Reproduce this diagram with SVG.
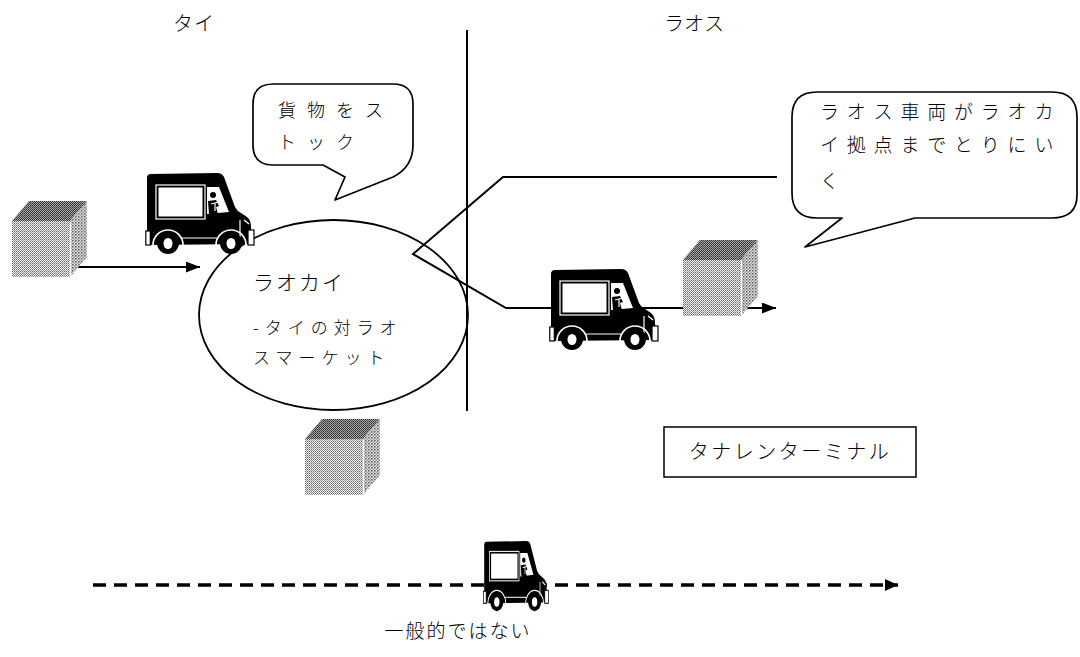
<svg xmlns="http://www.w3.org/2000/svg" xmlns:xlink="http://www.w3.org/1999/xlink" width="1080" height="657" viewBox="0 0 1080 657">
  <style>
    .jp { font-family: "Noto Sans CJK JP", sans-serif; font-weight: 300; fill: #000; }
    .outline { fill: #fff; stroke: #000; stroke-width: 1.7; stroke-linejoin: round; }
    .conn { fill: none; stroke: #000; stroke-width: 2; stroke-linejoin: miter; }
    .dash { fill: none; stroke: #000; stroke-width: 3.5; stroke-dasharray: 13 8; }
  </style>
  <defs>
    <!-- halftone fills for the cartons -->
    <pattern id="dotFront" width="2" height="2" patternUnits="userSpaceOnUse">
      <rect width="2" height="2" fill="#f0f0f0"/>
      <rect width="1" height="1" fill="#666"/>
      <rect x="1" y="1" width="1" height="1" fill="#9a9a9a"/>
    </pattern>
    <pattern id="dotTop" width="2" height="2" patternUnits="userSpaceOnUse">
      <rect width="2" height="2" fill="#a8a8a8"/>
      <rect width="1" height="1" fill="#2a2a2a"/>
      <rect x="1" y="1" width="1" height="1" fill="#444"/>
    </pattern>
    <pattern id="dotSide" width="3" height="3" patternUnits="userSpaceOnUse">
      <rect width="3" height="3" fill="#e6e6e6"/>
      <rect width="1.5" height="1.5" fill="#555"/>
      <rect x="1.5" y="1.5" width="1.5" height="1.5" fill="#999"/>
    </pattern>

    <!-- carton: front face 58x56, depth offset (17,-20) -->
    <symbol id="carton" viewBox="0 0 76 77" overflow="visible">
      <path d="M0,20 L17,0 L75,0 L58,20 Z" fill="url(#dotTop)"/>
      <path d="M58,20 L75,0 L75,56 L58,76 Z" fill="url(#dotSide)"/>
      <rect x="0" y="20" width="58" height="56" fill="url(#dotFront)"/>
      <line x1="58.5" y1="21" x2="58.5" y2="76" stroke="#fff" stroke-width="1"/>
    </symbol>

    <!-- delivery van, side view -->
    <symbol id="van" viewBox="0 0 110 82" preserveAspectRatio="none">
      <path d="M2,5 Q2,1 6,1 L72,0 Q77,0 79,4 L90,34 Q92,38 96,40 L102,44 Q106,47 106,54 L107,71 L2,72 Z" fill="#000"/>
      <!-- cargo panel -->
      <rect x="11" y="12" width="49" height="34" fill="none" stroke="#fff" stroke-width="1.2"/>
      <rect x="13.5" y="14.5" width="44" height="29" fill="#fff"/>
      <!-- cab window and driver -->
      <path d="M62,14 L74,14 L84,39 L62,41 Z" fill="#fff"/>
      <circle cx="68" cy="22" r="3" fill="#000"/>
      <path d="M63,28 L71,27 L74,33 L71,34 L73,41 L64,41 Z" fill="#000"/>
      <path d="M66,31 L74,29 M70,30 L70,38" stroke="#fff" stroke-width="1.2"/>
      <!-- trim lines -->
      <line x1="37" y1="65" x2="72" y2="65" stroke="#fff" stroke-width="1.2"/>
      <line x1="95" y1="47" x2="95" y2="64" stroke="#fff" stroke-width="1.2"/>
      <path d="M99,47 L104,51" stroke="#fff" stroke-width="1.5"/>
      <!-- wheel arches and wheels -->
      <path d="M8,72 A15,15 0 0 1 38,72" fill="none" stroke="#fff" stroke-width="1.6"/>
      <path d="M71,72 A15,15 0 0 1 101,72" fill="none" stroke="#fff" stroke-width="1.6"/>
      <circle cx="23" cy="70" r="11" fill="#000"/>
      <circle cx="86" cy="70" r="11" fill="#000"/>
      <ellipse cx="23" cy="70.5" rx="4.5" ry="5.5" fill="#fff"/>
      <ellipse cx="86" cy="70.5" rx="4.5" ry="5.5" fill="#fff"/>
      <!-- bumpers -->
      <rect x="0.8" y="58" width="4.5" height="14" fill="#fff" stroke="#000" stroke-width="1.2"/>
      <rect x="103" y="57" width="6" height="15" fill="#fff" stroke="#000" stroke-width="1.2"/>
    </symbol>

    <marker id="tip" markerUnits="userSpaceOnUse" markerWidth="14" markerHeight="11" refX="14" refY="5.5" orient="auto">
      <path d="M0,0 L14,5.5 L0,11 Z" fill="#000"/>
    </marker>
    <marker id="tipSmall" markerUnits="userSpaceOnUse" markerWidth="13" markerHeight="12" refX="13" refY="6" orient="auto">
      <path d="M0,0 L13,6 L0,12 Z" fill="#000"/>
    </marker>
  </defs>

  <rect width="1080" height="657" fill="#fff"/>

  <!-- country headings and border -->
  <g id="headings">
    <text class="jp" x="173" y="31" font-size="20" letter-spacing="1">タイ</text>
    <text class="jp" x="664" y="31" font-size="20" letter-spacing="0">ラオス</text>
    <line x1="467" y1="30" x2="467" y2="411" stroke="#000" stroke-width="2"/>
  </g>

  <!-- Lao Cai hub -->
  <g id="laocai">
    <ellipse cx="333.5" cy="315" rx="134.5" ry="95" fill="none" stroke="#000" stroke-width="1.8"/>
    <text class="jp" x="253" y="290" font-size="21" font-weight="500" letter-spacing="2">ラオカイ</text>
    <text class="jp" x="253" y="334" font-size="17" letter-spacing="6">-タイの対ラオ</text>
    <text class="jp" x="253" y="364" font-size="17" letter-spacing="6">スマーケット</text>
  </g>

  <!-- callout: stock the cargo -->
  <g id="callout-stock">
    <path class="outline" d="M273,84 H393 Q413,84 413,104 V145 Q413,167 393,177 L335,200 L345,177 L323,165 H273 Q253,165 253,145 V104 Q253,84 273,84 Z"/>
    <text class="jp" x="278" y="117" font-size="18" letter-spacing="11">貨物をス</text>
    <text class="jp" x="278" y="149" font-size="18" letter-spacing="11">トック</text>
  </g>

  <!-- callout: Lao trucks collect -->
  <g id="callout-collect">
    <path class="outline" d="M817,92 H1052 Q1077,92 1077,117 V195 Q1077,218 1052,218 H915 L805,247 L842,218 H817 Q792,218 792,193 V117 Q792,92 817,92 Z"/>
    <text class="jp" x="820" y="119" font-size="19" letter-spacing="7.8">ラオス車両がラオカ</text>
    <text class="jp" x="820" y="152" font-size="19" letter-spacing="7.8">イ拠点までとりにい</text>
    <text class="jp" x="820" y="188" font-size="19" letter-spacing="7.8">く</text>
  </g>

  <!-- Thanaleng terminal -->
  <g id="thanaleng">
    <rect x="664" y="427" width="252" height="50" fill="#fff" stroke="#000" stroke-width="1.5"/>
    <text class="jp" x="790" y="459" font-size="20" letter-spacing="2.5" text-anchor="middle">タナレンターミナル</text>
  </g>

  <!-- routes -->
  <g id="connectors">
    <line class="conn" x1="70" y1="267" x2="200" y2="267" marker-end="url(#tip)"/>
    <polyline class="conn" points="777,177 503,177 413,254 506,308 776,308" marker-end="url(#tip)"/>
    <line class="dash" x1="93" y1="585" x2="898" y2="585" marker-end="url(#tipSmall)"/>
  </g>

  <!-- vehicles and cargo -->
  <g id="cargo-thai">
    <use xlink:href="#carton" x="12" y="201" width="76" height="77"/>
  </g>
  <g id="truck-thai">
    <use xlink:href="#van" x="145" y="173" width="110" height="82"/>
  </g>
  <g id="cargo-laocai">
    <use xlink:href="#carton" x="305" y="419" width="76" height="77"/>
  </g>
  <g id="truck-lao">
    <use xlink:href="#van" x="549" y="269" width="110" height="82"/>
  </g>
  <g id="cargo-lao">
    <use xlink:href="#carton" x="683" y="240" width="76" height="77"/>
  </g>
  <g id="truck-direct">
    <use xlink:href="#van" x="483" y="541" width="66" height="71"/>
    <text class="jp" x="458" y="638" font-size="19" letter-spacing="2" text-anchor="middle">一般的ではない</text>
  </g>
</svg>
